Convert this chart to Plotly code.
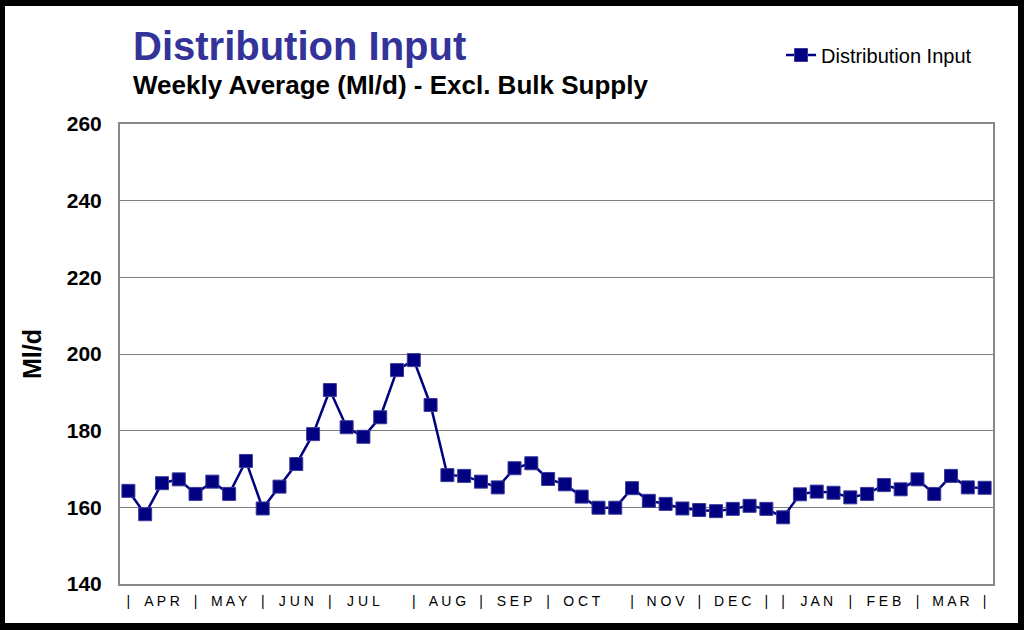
import plotly.graph_objects as go

# ---- data ----
weeks = list(range(1, 53))
distribution_input = [
    164.3, 158.2, 166.3, 167.3, 163.5, 166.7, 163.5, 172.1, 159.7, 165.4,
    171.3, 179.1, 190.6, 180.9, 178.4, 183.5, 195.8, 198.4, 186.7, 168.4,
    168.2, 166.7, 165.2, 170.2, 171.5, 167.4, 166.0, 162.8, 159.9, 159.9,
    165.0, 161.7, 160.9, 159.7, 159.3, 159.0, 159.6, 160.4, 159.6, 157.4,
    163.4, 164.1, 163.8, 162.6, 163.5, 165.8, 164.7, 167.3, 163.5, 168.2,
    165.2, 165.1,
]
week_labels = [""] * 52
_lab = {1: "|", 3: "A P R", 5: "|", 7: "M A Y", 9: "|", 11: "J U N", 13: "|",
        15: "J U L", 18: "|", 20: "A U G", 22: "|", 24: "S E P", 26: "|",
        28: "O C T", 31: "|", 33: "N O V", 35: "|", 37: "D E C", 39: "|",
        40: "|", 42: "J A N", 44: "|", 46: "F E B", 48: "|", 50: "M A R", 52: "|"}
for k, v in _lab.items():
    week_labels[k - 1] = v
y_ticks = [140, 160, 180, 200, 220, 240, 260]

title = "Distribution Input"
subtitle = "Weekly Average (Ml/d) - Excl. Bulk Supply"
series_name = "Distribution Input"

# ---- layout geometry (pixels) ----
W, H = 1024, 630
L, R, T, B = 120, 31, 124, 46
PW, PH = W - L - R, H - T - B


def px(x):
    return (x - L) / PW


def py(y):
    return (H - B - y) / PH


FONT = "Liberation Sans, Arial, sans-serif"
NAVY = "#000080"

tickvals = [w for w, t in zip(weeks, week_labels) if t]
ticktext = [t for t in week_labels if t]

fig = go.Figure()
fig.add_trace(go.Scatter(
    x=weeks, y=distribution_input, mode="lines+markers", name=series_name,
    line=dict(color=NAVY, width=2.5),
    marker=dict(symbol="square", size=13, color=NAVY,
                line=dict(color="#3a3a9a", width=1)),
))

fig.update_layout(
    width=W, height=H,
    margin=dict(l=L, r=R, t=T, b=B),
    paper_bgcolor="black",
    plot_bgcolor="white",
    font=dict(family=FONT, color="black"),
    showlegend=True,
    legend=dict(x=px(781), y=py(55), xanchor="left", yanchor="middle",
                bgcolor="rgba(0,0,0,0)", font=dict(size=20, family=FONT)),
    xaxis=dict(range=[0.5, 52.5], tickvals=tickvals, ticktext=ticktext,
               tickangle=0, showgrid=False, zeroline=False,
               ticks="outside", ticklen=3, tickcolor="rgba(0,0,0,0)",
               tickfont=dict(size=14, family=FONT, color="black"),
               showline=True, linecolor="#888888", linewidth=2, mirror=True),
    yaxis=dict(range=[140, 260], tickvals=y_ticks,
               tickfont=dict(size=21, family=FONT, weight="bold"),
               showgrid=True, gridcolor="#808080", gridwidth=1,
               zeroline=False, ticks="outside", ticklen=12,
               tickcolor="rgba(0,0,0,0)",
               showline=True, linecolor="#888888", linewidth=2, mirror=True),
    shapes=[dict(type="rect", xref="paper", yref="paper", layer="below",
                 x0=px(5), x1=px(1018), y0=py(623), y1=py(6),
                 fillcolor="white", line=dict(width=0))],
    annotations=[
        dict(text=title, x=px(131), y=py(46), xref="paper", yref="paper",
             xanchor="left", yanchor="middle", showarrow=False,
             font=dict(size=40, family=FONT, color="#333399", weight="bold")),
        dict(text=subtitle, x=px(131), y=py(85), xref="paper", yref="paper",
             xanchor="left", yanchor="middle", showarrow=False,
             font=dict(size=26, family=FONT, color="black", weight="bold")),
        dict(text="Ml/d", x=px(32), y=py(354), xref="paper", yref="paper",
             xanchor="center", yanchor="middle", showarrow=False, textangle=-90,
             font=dict(size=25, family=FONT, color="black", weight="bold")),
    ],
)

fig.write_html("out.html")
